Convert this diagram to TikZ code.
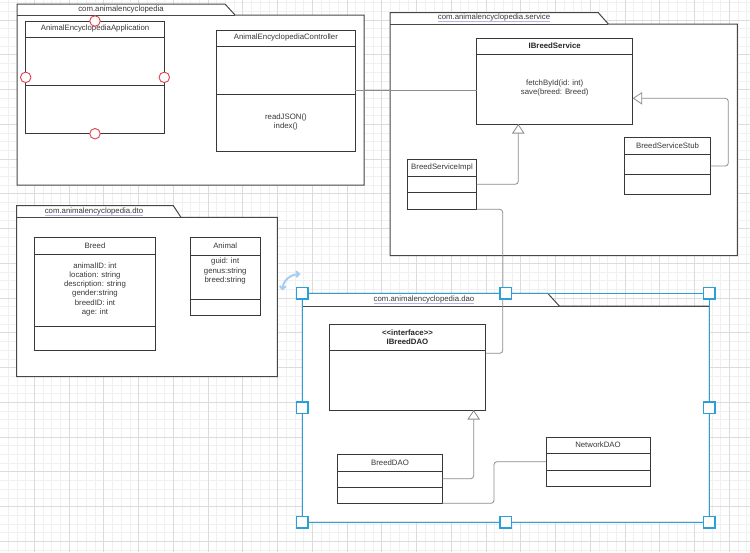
\documentclass[tikz,border=0pt]{standalone}
\usepackage{fontspec}
\setmainfont{Liberation Sans}
\usetikzlibrary{arrows.meta,calc}
\definecolor{ink}{HTML}{383838}
\definecolor{conn}{HTML}{8C8C8C}
\definecolor{sel}{HTML}{2A9FD8}
\definecolor{gridmin}{HTML}{F0F0F0}
\definecolor{gridmaj}{HTML}{DCDCDC}
\definecolor{hred}{HTML}{E0404E}
\definecolor{ulc}{HTML}{B4B4E6}
\definecolor{rot}{HTML}{A9CDF2}
\begin{document}
\begin{tikzpicture}[x=1pt,y=-1pt,
  every node/.style={font=\fontsize{7.8}{9.3}\selectfont, text=ink, inner sep=0pt, outer sep=0pt},
  umlbox/.style={draw=ink, fill=white, line width=0.9pt, anchor=north west},
  divider/.style={draw=ink, line width=0.9pt},
  pkgline/.style={draw=black!72, line width=1pt},
  connector/.style={draw=conn, line width=0.8pt, rounded corners=3pt},
  realize/.style={connector, -{Triangle[open, length=9.5pt, width=12.5pt, fill=white]}},
  bolder/.style={font=\fontsize{7.8}{9.3}\selectfont\bfseries, text=black!85},
  handle/.style={draw=sel, fill=white, line width=1.2pt, minimum size=11.5pt, rectangle},
  hotspot/.style={draw=hred, fill=white, line width=0.9pt, minimum size=10.5pt, circle},
  underl/.style={draw=ulc, line width=0.7pt}
]
\useasboundingbox (0,0) rectangle (750,552);
\fill[white] (0,0) rectangle (750,552);
% grid
\foreach \i in {0,...,87} \draw[gridmin, line width=0.7pt] ({-0.45+\i*8.6875},0) -- ({-0.45+\i*8.6875},552);
\foreach \i in {0,...,64} \draw[gridmin, line width=0.7pt] (0,{2.675+\i*8.6875}) -- (750,{2.675+\i*8.6875});
\foreach \i in {0,...,22} \draw[gridmaj, line width=0.8pt] ({-0.45+\i*34.75},0) -- ({-0.45+\i*34.75},552);
\foreach \i in {0,...,16} \draw[gridmaj, line width=0.8pt] (0,{-14.7+\i*34.75}) -- (750,{-14.7+\i*34.75});

% packages
\draw[pkgline, fill=white] (17,15) -- (17,4) -- (225,4) -- (235,15) -- (364,15) -- (364,185) -- (17,185) -- cycle;
\draw[pkgline] (17,15) -- (235,15);
\node (lblmain) at (121,9.3) {com.animalencyclopedia};

\draw[pkgline, fill=white] (390,24) -- (390,12.7) -- (598.3,12.7) -- (608.3,24) -- (737.3,24) -- (737.3,255.7) -- (390,255.7) -- cycle;
\draw[pkgline] (390,24) -- (608.3,24);
\node (lblsvc) at (494,17.6) {com.animalencyclopedia.service};
\draw[underl] (lblsvc.south west) -- (lblsvc.south east);

\draw[pkgline, fill=white] (16.7,217.3) -- (16.7,205.7) -- (173.3,205.7) -- (181,217.3) -- (277.3,217.3) -- (277.3,376.7) -- (16.7,376.7) -- cycle;
\draw[pkgline] (16.7,217.3) -- (181,217.3);
\node (lbldto) at (94,211.3) {com.animalencyclopedia.dto};
\draw[underl] (lbldto.south west) -- (lbldto.south east);

\draw[pkgline, fill=white] (302.3,306) -- (302.3,293.3) -- (547.7,293.3) -- (559.3,306) -- (709.3,306) -- (709.3,522.3) -- (302.3,522.3) -- cycle;
\draw[pkgline] (302.3,306) -- (709.3,306);
\node (lbldao) at (424,299.6) {com.animalencyclopedia.dao};
\draw[underl] (lbldao.south west) -- (lbldao.south east);

% classes
\node[umlbox, minimum width=138.6pt, minimum height=112.7pt] (app) at (25.7,21) {};
\draw[divider] (app.west |- 0,37.3) -- (app.east |- 0,37.3);
\draw[divider] (app.west |- 0,85.3) -- (app.east |- 0,85.3);
\node (apptitle) at (95,28.8) {AnimalEncyclopediaApplication};

\node[umlbox, minimum width=138.3pt, minimum height=121.7pt] (ctrl) at (216.7,30) {};
\draw[divider] (ctrl.west |- 0,46) -- (ctrl.east |- 0,46);
\draw[divider] (ctrl.west |- 0,94.3) -- (ctrl.east |- 0,94.3);
\node (ctrltitle) at (285.9,37.3) {AnimalEncyclopediaController};
\node[align=center] (ctrlops) at (285.9,121.8) {readJSON()\\index()};

\node[umlbox, minimum width=156pt, minimum height=85.7pt] (isvc) at (476.7,38.3) {};
\draw[divider] (isvc.west |- 0,54) -- (isvc.east |- 0,54);
\node[bolder] (isvctitle) at (554.7,46) {IBreedService};
\node[align=center] (isvcops) at (554.7,88.2) {fetchById(id: int)\\save(breed: Breed)};

\node[umlbox, minimum width=69.4pt, minimum height=50pt] (impl) at (407.3,159.3) {};
\draw[divider] (impl.west |- 0,176) -- (impl.east |- 0,176);
\draw[divider] (impl.west |- 0,192.3) -- (impl.east |- 0,192.3);
\node (impltitle) at (442,167.8) {BreedServiceImpl};

\node[umlbox, minimum width=86.4pt, minimum height=56.6pt] (stub) at (624.3,137.7) {};
\draw[divider] (stub.west |- 0,154.3) -- (stub.east |- 0,154.3);
\draw[divider] (stub.west |- 0,174.3) -- (stub.east |- 0,174.3);
\node (stubtitle) at (667.5,145.8) {BreedServiceStub};

\node[umlbox, minimum width=121.4pt, minimum height=113pt] (breed) at (34.3,237.7) {};
\draw[divider] (breed.west |- 0,254.3) -- (breed.east |- 0,254.3);
\draw[divider] (breed.west |- 0,326) -- (breed.east |- 0,326);
\node (breedtitle) at (95,245.5) {Breed};
\node[align=center] (breedattrs) at (95,289.3) {animalID: int\\location: string\\description: string\\gender:string\\breedID: int\\age: int};

\node[umlbox, minimum width=69.7pt, minimum height=77.3pt] (animal) at (190.3,237.7) {};
\draw[divider] (animal.west |- 0,255) -- (animal.east |- 0,255);
\draw[divider] (animal.west |- 0,299) -- (animal.east |- 0,299);
\node (animaltitle) at (225.2,245.5) {Animal};
\node[align=center] (animalattrs) at (225.2,271) {guid: int\\genus:string\\breed:string};

\node[umlbox, minimum width=156.4pt, minimum height=85.7pt] (idao) at (329.3,324.3) {};
\draw[divider] (idao.west |- 0,350) -- (idao.east |- 0,350);
\node[bolder, align=center] (idaotitle) at (407.5,336.9) {<{}<interface>{}>\\IBreedDAO};

\node[umlbox, minimum width=104.6pt, minimum height=49pt] (bdao) at (337.7,454.3) {};
\draw[divider] (bdao.west |- 0,471) -- (bdao.east |- 0,471);
\draw[divider] (bdao.west |- 0,487) -- (bdao.east |- 0,487);
\node (bdaotitle) at (390,462.3) {BreedDAO};

\node[umlbox, minimum width=104pt, minimum height=48.7pt] (ndao) at (546,437.3) {};
\draw[divider] (ndao.west |- 0,453.7) -- (ndao.east |- 0,453.7);
\draw[divider] (ndao.west |- 0,470) -- (ndao.east |- 0,470);
\node (ndaotitle) at (598,444.6) {NetworkDAO};

% connectors
\coordinate (isvcB) at (518.3,124);
\coordinate (idaoB) at (473.7,410);
\draw[connector] (ctrl.east) -- (ctrl.east -| isvc.west);
\draw[realize] (impl.east) -| (isvcB);
\draw[realize] (stub.east) -- ++(17.6,0) |- (isvc.east |- 0,98.3);
\draw[connector] (impl.south east) -- ++(26,0) |- (idao.east |- 0,353.3);
\draw[realize] (bdao.east) -| (idaoB);
\draw[connector] (bdao.south east) -- ++(51.7,0) |- (ndao.west);

% hotspots on the application class
\node[hotspot] (hN) at (app.north) {};
\node[hotspot] (hS) at (app.south) {};
\node[hotspot] (hW) at (app.west) {};
\node[hotspot] (hE) at (app.east) {};

% selection of the dao package
\draw[sel, line width=1.5pt] (302.3,293.3) rectangle (709.3,522.3);
\node[handle] (s1) at (302.3,293.3) {};
\node[handle] (s2) at (505.8,293.3) {};
\node[handle] (s3) at (709.3,293.3) {};
\node[handle] (s4) at (302.3,407.8) {};
\node[handle] (s5) at (709.3,407.8) {};
\node[handle] (s6) at (302.3,522.3) {};
\node[handle] (s7) at (505.8,522.3) {};
\node[handle] (s8) at (709.3,522.3) {};
\draw[rot, line width=2pt, {Straight Barb[length=3pt,width=6pt]}-{Straight Barb[length=3pt,width=6pt]}] (282.5,290.5) .. controls (283,281) and (290,274.5) .. (300.5,274);
\end{tikzpicture}
\end{document}
